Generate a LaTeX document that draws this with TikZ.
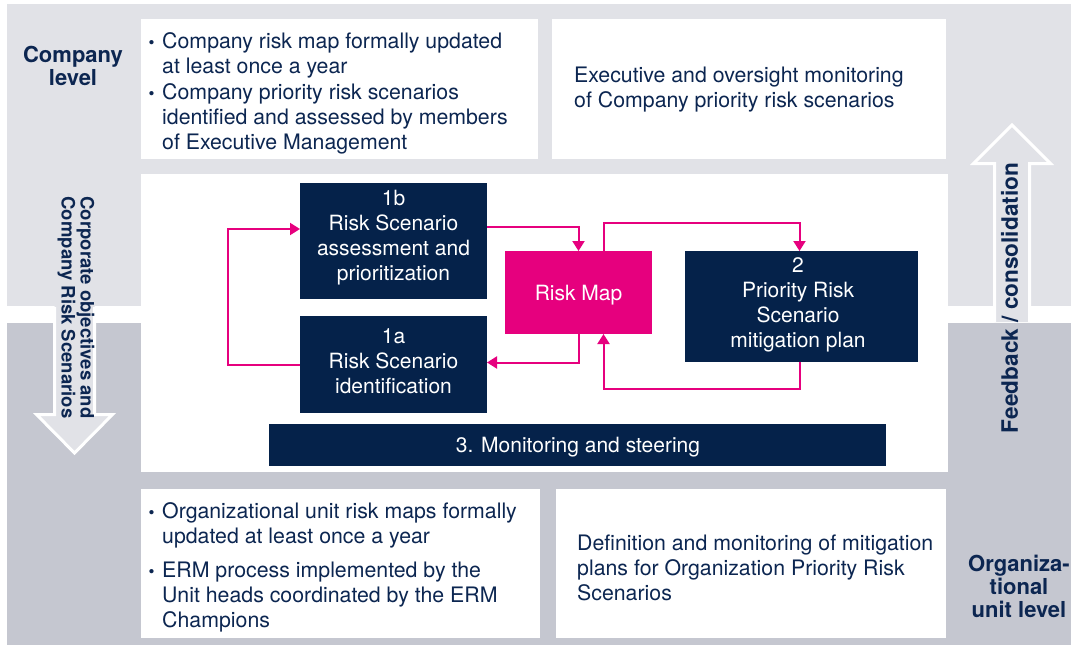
\documentclass[tikz,border=0pt]{standalone}
\usepackage{fontspec}
\setmainfont{TeX Gyre Heros}
\usetikzlibrary{arrows.meta}
\definecolor{lightband}{RGB}{225,226,231}
\definecolor{darkband}{RGB}{197,199,208}
\definecolor{navybox}{RGB}{5,34,74}
\definecolor{textnavy}{RGB}{12,38,81}
\definecolor{pinkc}{RGB}{230,0,126}
\begin{document}
\begin{tikzpicture}[x=1pt,y=-1pt,
  wbox/.style={fill=white, inner sep=0pt, outer sep=0pt, anchor=north west},
  nbox/.style={fill=navybox, inner sep=0pt, outer sep=0pt, anchor=north west},
  pbox/.style={fill=pinkc, inner sep=0pt, outer sep=0pt, anchor=north west},
  txt/.style={inner sep=0pt, font=\fontsize{21.3}{25}\selectfont, text=textnavy, align=left, anchor=base west},
  bul/.style={inner sep=0pt, font=\fontsize{17}{20}\selectfont, text=textnavy, anchor=base},
  wtxt/.style={inner sep=0pt, font=\fontsize{21}{25}\selectfont, text=white, align=center, anchor=base},
  lvl/.style={inner sep=0pt, font=\fontsize{22}{23}\selectfont\bfseries, text=textnavy, align=center, anchor=base},
  conn/.style={draw=pinkc, line width=2pt, -{Triangle[width=12pt,length=10pt]}},
  bigfill/.style={fill=lightband},
  bigedge/.style={draw=white, line width=3pt, line join=miter}
]
\useasboundingbox (0,0) rectangle (1071,645);
\fill[white] (0,0) rectangle (1071,645);
\fill[lightband] (7,4) rectangle (1071,306);
\fill[darkband] (7,323) rectangle (1071,645);

% white panels
\node[wbox, minimum width=807pt, minimum height=298pt] (panel) at (141,174) {};
\node[wbox, minimum width=397pt, minimum height=140pt] (tl) at (141,19) {};
\node[wbox, minimum width=394pt, minimum height=140pt] (tr) at (552,19) {};
\node[wbox, minimum width=399pt, minimum height=149pt] (bl) at (141,489) {};
\node[wbox, minimum width=390pt, minimum height=149pt] (br) at (556,489) {};

% big arrows
\fill[bigfill] (54.5,300) -- (54.5,414.5) -- (36.5,414.5) -- (74.5,453) -- (112.5,414.5) -- (94.5,414.5) -- (94.5,300) -- cycle;
\draw[bigedge] (54.5,307) -- (54.5,414.5) -- (36.5,414.5) -- (74.5,453) -- (112.5,414.5) -- (94.5,414.5) -- (94.5,307);
\fill[bigfill] (994.5,322) -- (994.5,163.5) -- (973.5,163.5) -- (1012,125) -- (1050.5,163.5) -- (1029.5,163.5) -- (1029.5,322) -- cycle;
\draw[bigedge] (994.5,322) -- (994.5,163.5) -- (973.5,163.5) -- (1012,125) -- (1050.5,163.5) -- (1029.5,163.5) -- (1029.5,322);

% process boxes
\node[nbox, minimum width=187pt, minimum height=116pt] (b1) at (300,183) {};
\node[nbox, minimum width=187pt, minimum height=97pt] (a1) at (300,316) {};
\node[pbox, minimum width=147pt, minimum height=83pt] (rm) at (505,251) {};
\node[nbox, minimum width=233pt, minimum height=111pt] (p2) at (685,251) {};
\node[nbox, minimum width=617pt, minimum height=42pt] (mon) at (269,424) {};

% connectors
\draw[conn] (a1.west) -- ++(-72,0) |- ([yshift=12pt]b1.west);
\draw[conn] ([yshift=14pt]b1.east) -| (rm.north);
\draw[conn] (rm.south) |- ([yshift=2pt]a1.east);
\draw[conn] ([xshift=25pt]rm.north) -- ++(0,-28) -| ([xshift=-2pt]p2.north);
\draw[conn] ([xshift=-2pt]p2.south) -- ++(0,27) -| ([xshift=25pt]rm.south);

% box texts (anchor base = last line)
\node[wtxt] (b1t) at (393.5,280) {1b\\Risk Scenario\\assessment and\\prioritization};
\node[wtxt] (a1t) at (393.5,393) {1a\\Risk Scenario\\identification};
\node[wtxt] (rmt) at (578.5,300) {Risk Map};
\node[wtxt] (p2t) at (798,347) {2\\Priority Risk\\Scenario\\mitigation plan};
\node[wtxt] (mont) at (578,452) {3. Monitoring and steering};

% top texts
\node[bul] (tlb1) at (151.5,48) {\textbullet};
\node[txt] (tli1) at (162,73) {Company risk map formally updated\\at least once a year};
\node[bul] (tlb2) at (151.5,99) {\textbullet};
\node[txt] (tli2) at (162,149) {Company priority risk scenarios\\identified and assessed by members\\of Executive Management};
\node[txt] (trt) at (574,107) {Executive and oversight monitoring\\of Company priority risk scenarios};

% bottom texts
\node[bul] (blb1) at (151.5,518) {\textbullet};
\node[txt] (bli1) at (162,543) {Organizational unit risk maps formally\\updated at least once a year};
\node[bul] (blb2) at (151.5,577) {\textbullet};
\node[txt] (bli2) at (162,627) {ERM process implemented by the\\Unit heads coordinated by the ERM\\Champions};
\node[txt] (brt) at (577,600) {Definition and monitoring of mitigation\\plans for Organization Priority Risk\\Scenarios};

% level labels
\node[lvl] (comp) at (73,85) {Company\\level};
\node[lvl] (org) at (1019,617) {Organiza-\\tional\\unit level};

% arrow labels
\node[inner sep=0pt, font=\fontsize{18.5}{19}\selectfont\bfseries, text=textnavy, align=center, rotate=-90] (down) at (76,307.5) {Corporate objectives and\\Company Risk Scenarios};
\node[inner sep=0pt, font=\fontsize{22.6}{23}\selectfont\bfseries, text=textnavy, rotate=90] (up) at (1009.5,298) {Feedback / consolidation};
\end{tikzpicture}
\end{document}
